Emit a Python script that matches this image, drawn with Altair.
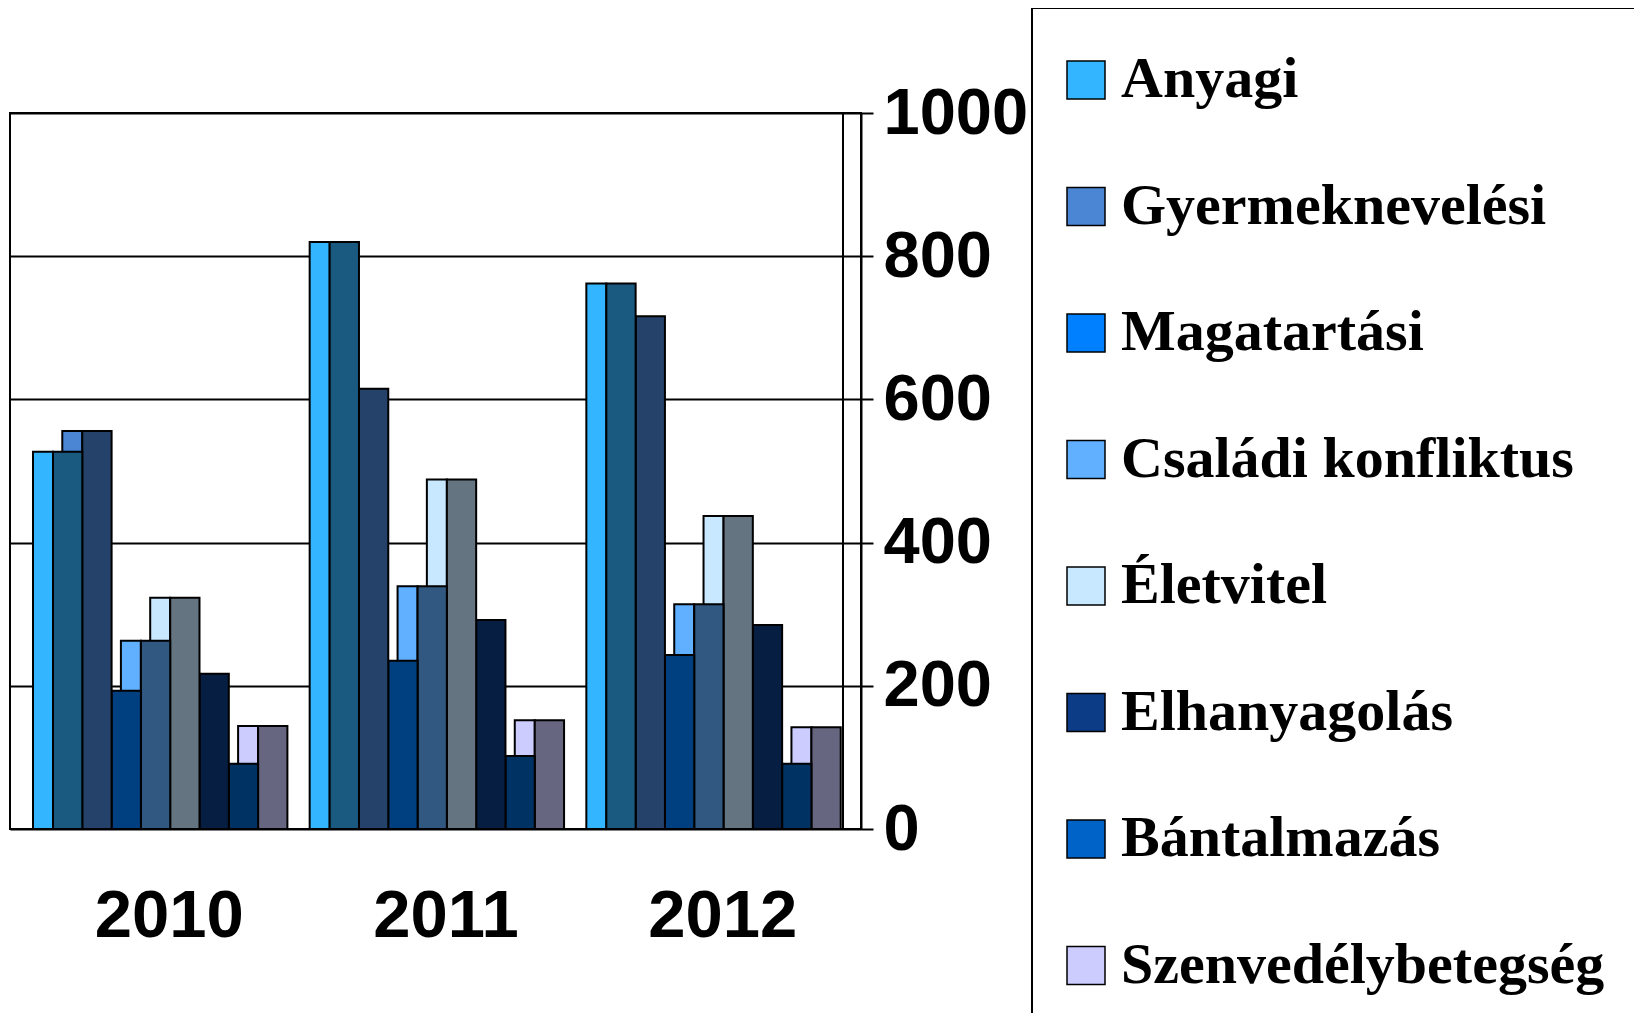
import altair as alt
import pandas as pd

years = ["2010", "2011", "2012"]
series = ["Anyagi", "Gyermeknevelési", "Magatartási", "Családi konfliktus",
          "Életvitel", "Elhanyagolás", "Bántalmazás", "Szenvedélybetegség"]
v2010 = [527, 556, 193, 263, 323, 217, 91, 144]
v2011 = [820, 615, 235, 339, 488, 292, 102, 152]
v2012 = [762, 716, 243, 314, 437, 285, 91, 142]
y_ticks = [0, 200, 400, 600, 800, 1000]

front_colors = ["#33B5FF", "#4A86D4", "#0080FF", "#60B0FF",
                "#C8E8FF", "#0B3C85", "#0063C8", "#CCCCFF"]
side_colors = ["#1A5A80", "#25436A", "#004080", "#305880",
               "#647480", "#061E42", "#003264", "#666680"]

# layout of the pseudo-3D clustered columns (pixels per category band)
BAND = 276.67
FRONT_W = 20.0
SIDE_W = 29.3
START = 22.0

values = [v2010, v2011, v2012]
side_keys = [s + " (oldal)" for s in series]

rows = []
for g, vals in enumerate(values):
    for i in reversed(range(len(series))):
        s0 = g + (START + SIDE_W * i) / BAND
        s1 = s0 + SIDE_W / BAND
        f0 = s0 - FRONT_W / BAND
        rows.append(dict(year=years[g], series=series[i], key=series[i],
                         x0=f0, x1=s0, v=vals[i]))
        rows.append(dict(year=years[g], series=series[i], key=side_keys[i],
                         x0=s0, x1=s1, v=vals[i]))
df = pd.DataFrame(rows)
labels_df = pd.DataFrame({"year": years, "xc": [i + 0.5 for i in range(len(years))]})

W, H = 851, 716
xscale = alt.Scale(domain=[-21 / BAND, 3], nice=False, zero=False)

bars = alt.Chart(df).mark_rect(stroke="black", strokeWidth=2).encode(
    x=alt.X("x0:Q", scale=xscale,
            axis=alt.Axis(values=[0, 1, 2, 3], labels=False, ticks=True, tickSize=11,
                          tickColor="black", tickWidth=2, domain=False, grid=False,
                          title=None)),
    x2="x1:Q",
    y=alt.Y("v:Q", scale=alt.Scale(domain=[0, 1000], nice=False),
            axis=alt.Axis(orient="right", values=y_ticks, title=None, format="d",
                          grid=True, gridColor="black", gridWidth=2, gridOpacity=1,
                          domain=True, domainColor="black", domainWidth=2,
                          ticks=True, tickSize=12, tickColor="black", tickWidth=2,
                          labelFont="Liberation Sans", labelFontWeight="bold",
                          labelFontSize=65, labelColor="black", labelPadding=10,
                          labelFlush=False, labelOverlap=False)),
    y2=alt.datum(0),
    color=alt.Color("key:N",
                    scale=alt.Scale(domain=series + side_keys,
                                    range=front_colors + side_colors),
                    legend=alt.Legend(values=series, orient="none",
                                      legendX=1022, legendY=-105,
                                      title=" ", titleFontSize=6, titlePadding=12,
                                      symbolType="square", symbolSize=1444,
                                      symbolStrokeColor="black", symbolStrokeWidth=1.5,
                                      symbolOpacity=1,
                                      labelFont="Liberation Serif", labelFontWeight="bold",
                                      labelFontSize=58, labelColor="black", labelLimit=0,
                                      labelOffset=6, rowPadding=68.5, padding=25)),
)

# legend frame, running off the right and bottom edges as in the original
legend_frame = alt.Chart(labels_df).mark_rect(
    fill="white", fillOpacity=0, stroke="black", strokeWidth=2
).encode(
    x=alt.value(1022), x2=alt.value(1700), y=alt.value(-105), y2=alt.value(1000)
)

back_wall = alt.Chart(labels_df).mark_rule(color="black", strokeWidth=2).encode(
    x=alt.value(833), y=alt.value(0), y2=alt.value(H)
)

year_text = alt.Chart(labels_df).mark_text(
    font="Liberation Sans", fontWeight="bold", fontSize=67, baseline="middle",
    color="black"
).encode(
    x=alt.X("xc:Q", scale=xscale, axis=None),
    y=alt.value(804),
    text="year:N",
)

chart = alt.layer(bars, back_wall, year_text, legend_frame).properties(
    width=W, height=H,
    autosize=alt.AutoSizeParams(type="none"),
    padding={"left": 2, "top": 105, "right": 1626 - 2 - W, "bottom": 1005 - 105 - H},
).configure_view(stroke="black", strokeWidth=2)

chart.save("out.html", embed_options={"renderer": "svg", "actions": False})
